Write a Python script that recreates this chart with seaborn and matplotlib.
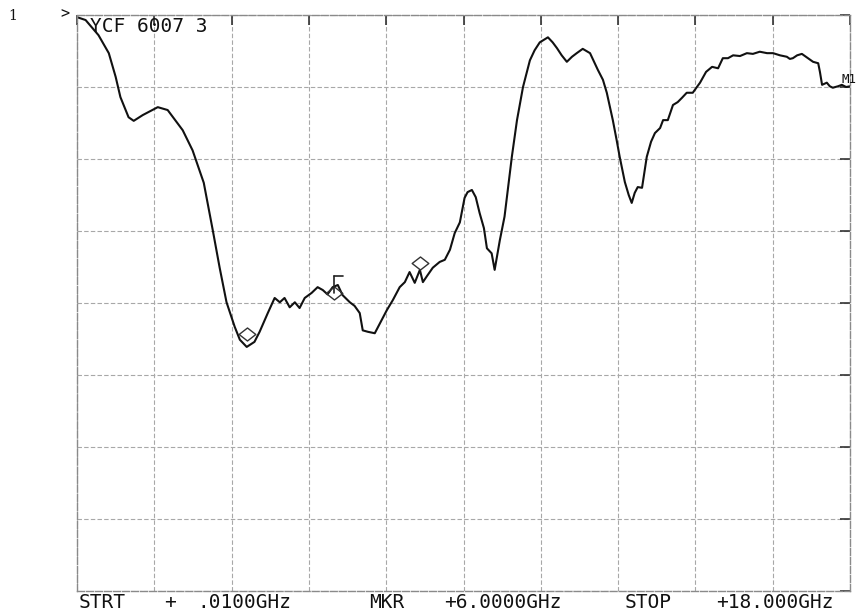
import numpy as np
import pandas as pd
import matplotlib
matplotlib.use("Agg")
import matplotlib.pyplot as plt
from matplotlib.path import Path
import seaborn as sns

# Swept transmission trace, 0.01 - 18 GHz, 10 dB/div, reference at top
freq_ghz = [
    0.01, 0.21, 0.51, 0.75, 0.91, 1.02, 1.21, 1.33, 1.54, 1.89, 2.12, 2.47, 2.70,
    2.96, 3.17, 3.33, 3.49, 3.68, 3.80, 3.96, 4.14, 4.26, 4.45, 4.61, 4.73, 4.84,
    4.96, 5.08, 5.19, 5.31, 5.47, 5.61, 5.73, 5.84, 5.96, 6.08, 6.19, 6.36, 6.47,
    6.59, 6.66, 6.78, 6.94, 7.08, 7.22, 7.36, 7.52, 7.64, 7.75, 7.87, 7.99, 8.06,
    8.15, 8.29, 8.45, 8.57, 8.69, 8.80, 8.92, 9.03, 9.10, 9.20, 9.29, 9.38, 9.48,
    9.55, 9.66, 9.73, 9.85, 9.96, 10.13, 10.25, 10.39, 10.55, 10.66, 10.78, 10.97,
    11.08, 11.18, 11.29, 11.41, 11.53, 11.64, 11.78, 11.95, 12.13, 12.25, 12.34,
    12.48, 12.57, 12.64, 12.76, 12.85, 12.92, 12.99, 13.06, 13.16, 13.27, 13.37,
    13.46, 13.58, 13.65, 13.76, 13.88, 13.99, 14.09, 14.20, 14.34, 14.51, 14.65,
    14.79, 14.93, 15.04, 15.16, 15.28, 15.44, 15.60, 15.74, 15.90, 16.07, 16.21,
    16.37, 16.53, 16.60, 16.67, 16.77, 16.88, 17.02, 17.14, 17.26, 17.30, 17.35,
    17.46, 17.53, 17.60, 17.72, 17.81, 17.91, 18.00,
]
level_db = [
    -0.3, -0.7, -2.8, -5.3, -8.6, -11.4, -14.2, -14.7, -13.9, -12.8, -13.2, -16.0,
    -18.8, -23.3, -29.9, -35.1, -39.9, -43.3, -45.1, -46.1, -45.4, -44.0, -41.4,
    -39.3, -39.9, -39.3, -40.6, -39.9, -40.7, -39.3, -38.6, -37.8, -38.2, -38.8,
    -37.8, -37.5, -38.9, -39.9, -40.4, -41.4, -43.8, -44.0, -44.2, -42.6, -41.0,
    -39.6, -37.8, -37.1, -35.7, -37.2, -35.4, -37.1, -36.3, -35.1, -34.3, -34.0,
    -32.6, -30.3, -28.8, -25.4, -24.6, -24.3, -25.3, -27.5, -29.6, -32.4, -33.1,
    -35.4, -31.3, -28.0, -19.7, -14.6, -10.0, -6.3, -4.9, -3.8, -3.1, -3.8, -4.6,
    -5.6, -6.5, -5.8, -5.3, -4.7, -5.3, -7.6, -9.0, -10.8, -14.6, -17.4, -19.7,
    -23.2, -25.0, -26.1, -24.7, -23.9, -24.0, -19.7, -17.6, -16.4, -15.7, -14.6,
    -14.6, -12.5, -12.1, -11.5, -10.8, -10.8, -9.4, -7.9, -7.2, -7.4, -6.0, -6.0,
    -5.6, -5.7, -5.3, -5.4, -5.1, -5.3, -5.3, -5.6, -5.8, -6.1, -6.0, -5.6, -5.4,
    -6.0, -6.5, -6.7, -7.9, -9.7, -9.4, -9.9, -10.1, -9.9, -9.7, -10.0, -9.9,
]

# Marker positions on the trace
marker_freq = [3.96, 6.00, 8.00]
marker_level = [-44.3, -38.6, -34.4]

start_ghz, stop_ghz = 0.01, 18.0
ref_db, db_per_div, n_div_y, n_div_x = 0.0, 10.0, 8, 10

header = "YCF 6007 3"
footer = [("STRT", 102), ("+", 170), (".0100GHz", 244), ("MKR", 387),
          ("+6.0000GHz", 503), ("STOP", 648), ("+18.000GHz", 775)]

sns.set_style("white")
plt.rcParams["font.family"] = ["DejaVu Sans Mono", "DejaVu Sans"]

W, H = 858, 614
fig = plt.figure(figsize=(W / 100, H / 100), dpi=100)
fig.patch.set_facecolor("white")
ax = fig.add_axes([77 / W, 1 - 591 / H, (850 - 77) / W, (591 - 15) / H])

df = pd.DataFrame({"freq": freq_ghz, "level": level_db})
sns.lineplot(data=df, x="freq", y="level", sort=False, estimator=None,
             color="#111111", lw=1.5, ax=ax)

# hollow diamond markers
diamond = Path([(-1, 0), (0, 0.78), (1, 0), (0, -0.78), (-1, 0)],
               [Path.MOVETO, Path.LINETO, Path.LINETO, Path.LINETO, Path.CLOSEPOLY])
ax.plot(marker_freq, marker_level, ls="none", marker=diamond, ms=12,
        mfc="none", mec="#333333", mew=1.0)
# active-marker flag at the marker frequency
ax.plot([marker_freq[1], marker_freq[1]], [marker_level[1], marker_level[1] + 2.3],
        color="#222222", lw=1.2)
ax.plot([marker_freq[1], marker_freq[1] + 0.2], [marker_level[1] + 2.3] * 2,
        color="#222222", lw=1.2)

ax.set_xlim(start_ghz, stop_ghz)
ax.set_ylim(ref_db - n_div_y * db_per_div, ref_db)
ax.set_xticks(np.linspace(start_ghz, stop_ghz, n_div_x + 1))
ax.set_yticks(np.linspace(ref_db - n_div_y * db_per_div, ref_db, n_div_y + 1))
ax.grid(True, color="#a8a8a8", lw=0.8, ls=(0, (4, 2)))
ax.tick_params(direction="in", length=7, width=1.2, color="#333333",
               top=True, right=True, labelbottom=False, labelleft=False)
for s in ax.spines.values():
    s.set_color("#8a8a8a")
    s.set_linewidth(1.0)
    s.set_linestyle((0, (5, 1.5)))
ax.set_xlabel("")
ax.set_ylabel("")


def fig_pt(x, y):
    return x / W, 1 - y / H


fs = 14
fig.text(*fig_pt(149, 32), header, fontsize=fs, ha="center", va="baseline",
         color="#111111")
for txt, xc in footer:
    fig.text(*fig_pt(xc, 608), txt, fontsize=fs, ha="center", va="baseline",
             color="#111111")
fig.text(*fig_pt(8, 20), "1", fontsize=10, ha="left", va="baseline",
         family="DejaVu Serif", color="#111111")
fig.text(*fig_pt(60, 18), ">", fontsize=11, ha="left", va="baseline", color="#111111")
fig.text(*fig_pt(841, 83), "M1", fontsize=9, ha="left", va="baseline", color="#111111")

fig.savefig("out.png", dpi=100, facecolor="white")
